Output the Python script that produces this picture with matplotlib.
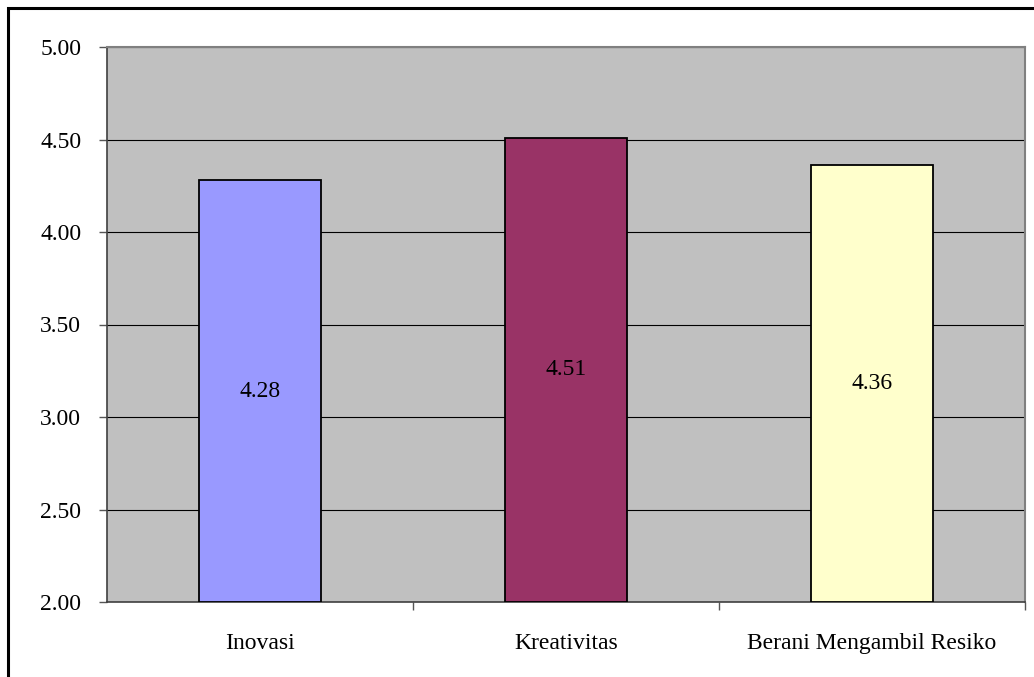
import matplotlib
matplotlib.use("Agg")
import matplotlib.pyplot as plt
from matplotlib.patches import Rectangle

categories = ["Inovasi", "Kreativitas", "Berani Mengambil Resiko"]
values = [4.28, 4.51, 4.36]
colors = ["#9999FF", "#993366", "#FFFFCC"]
yticks = [2.00, 2.50, 3.00, 3.50, 4.00, 4.50, 5.00]

plt.rcParams['font.family'] = ['Liberation Serif', 'DejaVu Serif']

W, H = 1034, 677
fig = plt.figure(figsize=(W / 100, H / 100), dpi=100)

# outer chart border (top and left visible; right/bottom clipped)
fig.patches.append(Rectangle((8 / W, -0.05), 1.1, 1 - 8 / H + 0.05, transform=fig.transFigure,
                             fill=False, edgecolor='black', linewidth=2.2))

left, right, top, bottom = 107, 1025, 47, 602
ax = fig.add_axes([left / W, 1 - bottom / H, (right - left) / W, (bottom - top) / H])
ax.set_facecolor('#C0C0C0')

FS = 17
x = list(range(len(categories)))
ax.bar(x, [v - 2.0 for v in values], bottom=2.0, width=0.4, color=colors,
       edgecolor='black', linewidth=1.3, zorder=3)
for xi, v in zip(x, values):
    ax.text(xi, (2.0 + v) / 2, f"{v:.2f}", ha='center', va='center', fontsize=FS, zorder=4)

ax.set_xlim(-0.5, len(categories) - 0.5)
ax.set_ylim(2.0, 5.0)
ax.set_yticks(yticks)
ax.set_yticklabels([f"{t:.2f}" for t in yticks], fontsize=FS)
ax.yaxis.grid(True, color='black', linewidth=0.8, zorder=1)
ax.set_axisbelow(True)

ax.set_xticks(x)
ax.set_xticklabels(categories, fontsize=FS)
ax.tick_params(axis='x', length=0, pad=22)
ax.set_xticks([0.5, 1.5, 2.5], minor=True)
ax.tick_params(axis='x', which='minor', length=6, color='#555555', width=1)
ax.tick_params(axis='y', length=6, color='#555555', width=1, pad=12.5)

for s in ['top', 'right']:
    ax.spines[s].set_color('#808080')
    ax.spines[s].set_linewidth(1.5)
ax.spines['left'].set_color('#404040')
ax.spines['left'].set_linewidth(1.2)
ax.spines['bottom'].set_color('#404040')
ax.spines['bottom'].set_linewidth(1.2)

fig.savefig("out.png", dpi=100)
